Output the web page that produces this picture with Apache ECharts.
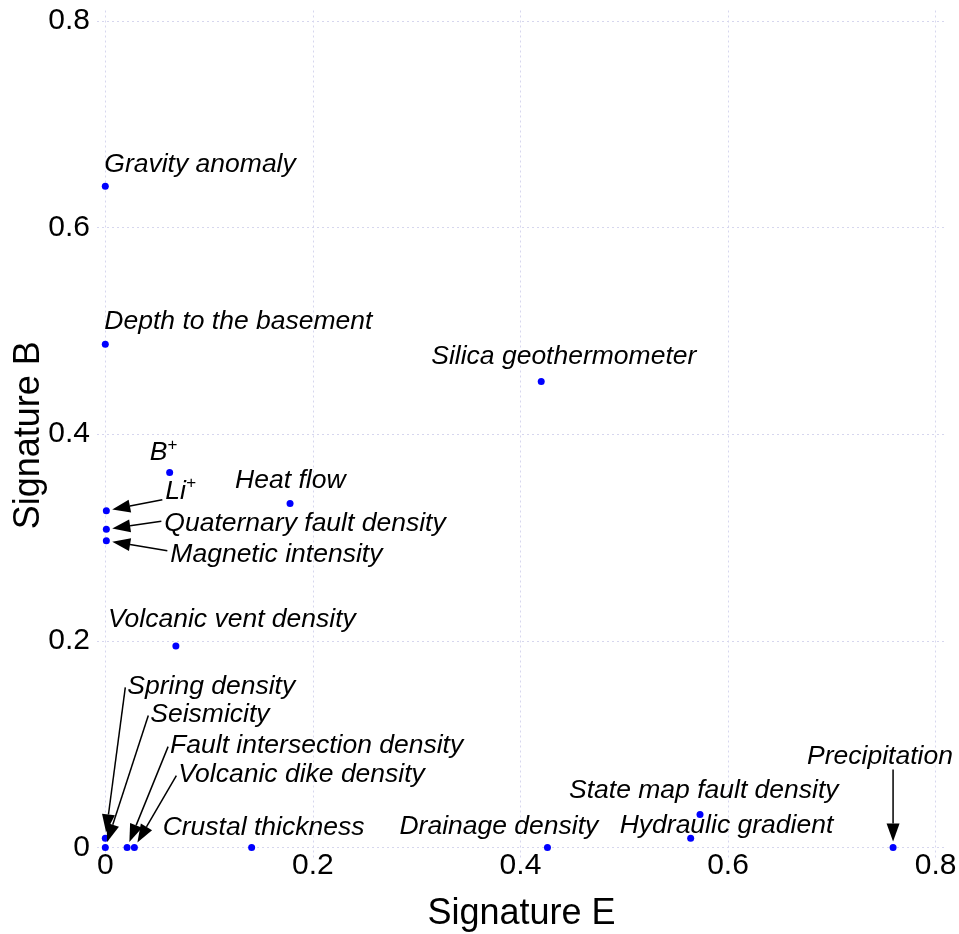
<!DOCTYPE html>
<html>
<head>
<meta charset="utf-8">
<script src="https://cdn.jsdelivr.net/npm/echarts@6/dist/echarts.min.js"></script>
<style>html,body{margin:0;padding:0;background:#fff}#c{width:959px;height:934px}</style>
</head>
<body>
<div id="c"></div>
<script>
// ---- data ----
var names = ['Gravity anomaly','Depth to the basement','Silica geothermometer','B+','Heat flow','Li+',
  'Quaternary fault density','Magnetic intensity','Volcanic vent density','Spring density','Seismicity',
  'Fault intersection density','Volcanic dike density','Crustal thickness','Drainage density',
  'State map fault density','Hydraulic gradient','Precipitation'];
var sigE = [0.000,0.000,0.420,0.062,0.178,0.001,0.001,0.001,0.068,0.000,0.000,0.021,0.028,0.141,0.426,0.573,0.564,0.759];
var sigB = [0.640,0.487,0.451,0.363,0.333,0.326,0.308,0.297,0.195,0.009,0.000,0.000,0.000,0.000,0.000,0.032,0.009,0.000];
var xTicks = [0, 0.2, 0.4, 0.6, 0.8];
var yTicks = [0, 0.2, 0.4, 0.6, 0.8];

// ---- label placement (pixel offsets of label left/middle from point) ----
var labelOffsets = [[-1,-23],[-1,-24],[-110,-26],[-20,-21],[-55,-24],[59,-21],[58,-7],[64,12],[-68,-28],
  [22,-153],[45,-134],[43,-103],[44,-74],[-89,-21],[-148,-22],[-131,-25],[-71,-14],[-86,-92]];
// arrow start offsets (pixels from point), null = no arrow
var arrowStarts = [null,null,null,null,null,[56,-11],[55,-8],[61,10],null,
  [20,-151],[43,-132],[41,-101],[42,-72],null,null,null,null,[0,-78]];

var FONT = '"Liberation Sans", Arial, Helvetica, sans-serif';
var chart = echarts.init(document.getElementById('c'), null, {renderer:'canvas'});

var gridStyle = {show:true, lineStyle:{color:'#d6d6ee', type:[2,3], width:1}};
function fmt(v){return v===0?'0':String(+v.toFixed(1));}

chart.setOption({
  backgroundColor:'#fff',
  animation:false,
  grid:{left:97, right:13, top:10.5, bottom:74, containLabel:false, outerBoundsMode:'none'},
  xAxis:{type:'value', min:-0.008, max:0.81,
    axisLine:{show:false}, axisTick:{show:false, customValues:xTicks},
    splitLine:gridStyle,
    axisLabel:{customValues:xTicks, fontSize:30, color:'#000', fontFamily:FONT, margin:-9, formatter:fmt},
    name:'Signature E', nameLocation:'middle', nameGap:36, nameMoveOverlap:false,
    nameTextStyle:{fontSize:36, color:'#000', fontFamily:FONT}},
  yAxis:{type:'value', min:-0.012, max:0.81,
    axisLine:{show:false}, axisTick:{show:false, customValues:yTicks},
    splitLine:gridStyle,
    axisLabel:{customValues:yTicks, fontSize:30, color:'#000', fontFamily:FONT, margin:7, formatter:fmt},
    name:'Signature B', nameLocation:'middle', nameGap:50, nameMoveOverlap:false,
    nameTextStyle:{fontSize:36, color:'#000', fontFamily:FONT}},
  series:[{
    type:'scatter', symbol:'circle', symbolSize:7,
    itemStyle:{color:'#0000ff', opacity:1},
    emphasis:{disabled:true},
    data:names.map(function(n,i){return {name:n, value:[sigE[i], sigB[i]]};})
  }]
});

// labels and arrows, positioned through the chart's own coordinate conversion
var richStyle = {
  n:{fontSize:26.5, fontStyle:'italic', fontFamily:FONT, fill:'#000', lineHeight:30, verticalAlign:'bottom'},
  s:{fontSize:17, fontStyle:'italic', fontFamily:FONT, fill:'#000', lineHeight:30, verticalAlign:'top'}
};
var graphics = [];
names.forEach(function(n,i){
  var p = chart.convertToPixel({seriesIndex:0}, [sigE[i], sigB[i]]);
  var o = labelOffsets[i];
  var txt = /\+$/.test(n) ? '{n|' + n.slice(0,-1) + '}{s|+}' : '{n|' + n + '}';
  graphics.push({type:'text', silent:true, z:50, x:p[0]+o[0], y:p[1]+o[1],
    style:{text:txt, rich:richStyle, fill:'#000', fontSize:26.5, fontStyle:'italic', fontFamily:FONT, align:'left', verticalAlign:'middle'}});
  var a = arrowStarts[i];
  if(!a) return;
  var sx = p[0]+a[0], sy = p[1]+a[1];
  var dx = p[0]-sx, dy = p[1]-sy, L = Math.sqrt(dx*dx+dy*dy);
  var ux = dx/L, uy = dy/L;
  var gap = 6, hl = 18, hw = 6.5;
  var tx = p[0]-ux*gap, ty = p[1]-uy*gap;
  var bx = tx-ux*hl, by = ty-uy*hl;
  graphics.push({type:'line', silent:true, z:50, shape:{x1:sx,y1:sy,x2:bx,y2:by}, style:{stroke:'#000', lineWidth:1.5}});
  graphics.push({type:'polygon', silent:true, z:50, shape:{points:[[tx,ty],[bx-uy*hw,by+ux*hw],[bx+uy*hw,by-ux*hw]]}, style:{fill:'#000'}});
});
chart.setOption({graphic:graphics});
</script>
</body>
</html>
